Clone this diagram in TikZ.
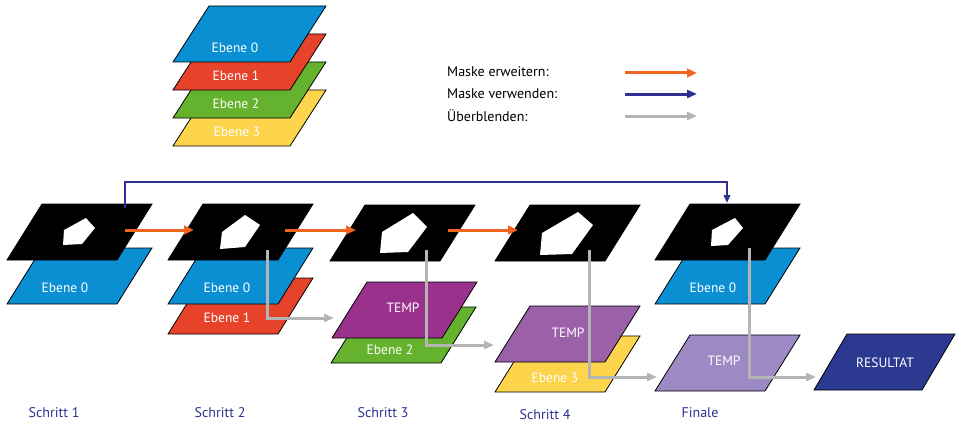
\documentclass[tikz,border=0pt]{standalone}
\usepackage{fontspec}
\setmainfont{PT Sans}
\usetikzlibrary{arrows.meta}
\definecolor{cblue}{HTML}{0A8FD2}
\definecolor{cred}{HTML}{E6432A}
\definecolor{cgreen}{HTML}{64B22E}
\definecolor{cyellow}{HTML}{FCD54C}
\definecolor{ctempa}{HTML}{99318D}
\definecolor{ctempb}{HTML}{9A60A8}
\definecolor{ctempc}{HTML}{9D8AC4}
\definecolor{cres}{HTML}{2B3990}
\definecolor{corange}{HTML}{F0641E}
\definecolor{cnavy}{HTML}{2E3192}
\definecolor{cgray}{HTML}{B4B4B4}
% #1 bottom-left x, #2 top y, #3 fill, #4 width, #5 skew
\newcommand\layerplane[5]{%
  \filldraw[fill=#3, draw=black, line width=0.8pt, line join=miter]
    (#1,{#2+56}) -- ++(#4,0) -- ++(#5,-56) -- ++(-#4,0) -- cycle;}
\newcommand\maskplane[2]{\layerplane{#1}{#2}{black}{110}{35}}
\tikzset{
  lbl/.style={text=white, font=\fontsize{13.5}{15}\selectfont, inner sep=0pt},
  legtxt/.style={text=black, font=\fontsize{14}{16}\selectfont, anchor=west, inner sep=0pt},
  steptxt/.style={text=cnavy, font=\fontsize{14}{16}\selectfont, inner sep=0pt},
  hole/.style={fill=white},
  orangearrow/.style={draw=corange, line width=3pt, -{Triangle[length=10pt,width=8.5pt]}},
  navyarrow/.style={draw=cnavy, line width=2pt, -{Triangle[length=8pt,width=6.5pt]}},
  grayarrow/.style={draw=cgray, line width=3pt, -{Triangle[length=10pt,width=8pt]}},
}
\begin{document}
\begin{tikzpicture}[x=1pt,y=-1pt]
\useasboundingbox (0,0) rectangle (956,428);
% legend stack
\layerplane{173}{90}{cyellow}{117}{36}
\layerplane{173}{62}{cgreen}{117}{36}
\layerplane{173}{34}{cred}{117}{36}
\layerplane{173}{6}{cblue}{117}{36}
\node[lbl] (l0) at (235,48) {Ebene 0};
\node[lbl] (l1) at (236,76) {Ebene 1};
\node[lbl] (l2) at (236,104) {Ebene 2};
\node[lbl] (l3) at (237,132) {Ebene 3};
% legend arrows
\node[legtxt] (k1) at (447,72) {Maske erweitern:};
\node[legtxt] (k2) at (447,94) {Maske verwenden:};
\node[legtxt] (k3) at (447,116) {Überblenden:};
\coordinate (k1s) at (625,73); \coordinate (k1e) at (697,73);
\coordinate (k2s) at (625,94); \coordinate (k2e) at (697,94);
\coordinate (k3s) at (625,116); \coordinate (k3e) at (697,116);
\draw[orangearrow] (k1s) -- (k1e);
\draw[navyarrow, line width=3pt, -{Triangle[length=10pt,width=8pt]}] (k2s) -- (k2e);
\draw[grayarrow] (k3s) -- (k3e);
% column 1
\layerplane{7}{248}{cblue}{110}{35}
\maskplane{7}{204}
\fill[hole] (64,230) -- (86,218) -- (95,228) -- (82,244) -- (63,245) -- cycle;
\node[lbl] (b1) at (65,288) {Ebene 0};
% column 2
\layerplane{168}{278}{cred}{110}{35}
\layerplane{168}{248}{cblue}{110}{35}
\maskplane{168}{204}
\fill[hole] (222,232) -- (245,215) -- (260,225) -- (245,247) -- (220,249) -- cycle;
\node[lbl] (b2) at (227,288) {Ebene 0};
\node[lbl] (r2) at (227,318) {Ebene 1};
% column 3
\layerplane{331}{307}{cgreen}{110}{35}
\layerplane{332}{282}{ctempa}{110}{35}
\maskplane{330}{205}
\fill[hole] (382,232) -- (413,213) -- (427,227) -- (408,252) -- (380,253) -- cycle;
\node[lbl] (t3) at (403,308) {TEMP};
\node[lbl] (g3) at (390,350) {Ebene 2};
% column 4
\layerplane{495}{336}{cyellow}{110}{35}
\layerplane{495}{306}{ctempb}{110}{35}
\maskplane{495}{205}
\fill[hole] (542,233) -- (578,212) -- (593,225) -- (572,254) -- (540,255) -- cycle;
\node[lbl] (t4) at (568,333) {TEMP};
\node[lbl] (y4) at (555,378) {Ebene 3};
% column 5
\layerplane{655}{335}{ctempc}{110}{35}
\layerplane{655}{248}{cblue}{110}{35}
\maskplane{655}{204}
\fill[hole] (712,230) -- (735,218) -- (743,228) -- (728,245) -- (711,246) -- cycle;
\node[lbl] (b5) at (713,288) {Ebene 0};
\node[lbl] (t5) at (724,361) {TEMP};
% result
\layerplane{814}{334}{cres}{108}{33}
\node[lbl] (res) at (885,363) {RESULTAT};
% connectors
\coordinate (o1s) at (125,230); \coordinate (o1e) at (194,230);
\coordinate (o2s) at (285,230); \coordinate (o2e) at (356,230);
\coordinate (o3s) at (448,230); \coordinate (o3e) at (518,230);
\draw[orangearrow] (o1s) -- (o1e);
\draw[orangearrow] (o2s) -- (o2e);
\draw[orangearrow] (o3s) -- (o3e);
\coordinate (n1s) at (125,208); \coordinate (n1e) at (727,203);
\draw[navyarrow] (n1s) -- ++(0,-26) -| (n1e);
\coordinate (g1s) at (267,250); \coordinate (g1e) at (334,318);
\coordinate (g2s) at (426,250); \coordinate (g2e) at (494,345);
\coordinate (g3s) at (589,250); \coordinate (g3e) at (657,377);
\coordinate (g4s) at (749,248); \coordinate (g4e) at (816,377);
\draw[grayarrow] (g1s) |- (g1e);
\draw[grayarrow] (g2s) |- (g2e);
\draw[grayarrow] (g3s) |- (g3e);
\draw[grayarrow] (g4s) |- (g4e);
% step labels
\node[steptxt] (s1) at (54,413) {Schritt 1};
\node[steptxt] (s2) at (220,413) {Schritt 2};
\node[steptxt] (s3) at (383,413) {Schritt 3};
\node[steptxt] (s4) at (545,415) {Schritt 4};
\node[steptxt] (s5) at (700,413) {Finale};
\end{tikzpicture}
\end{document}
